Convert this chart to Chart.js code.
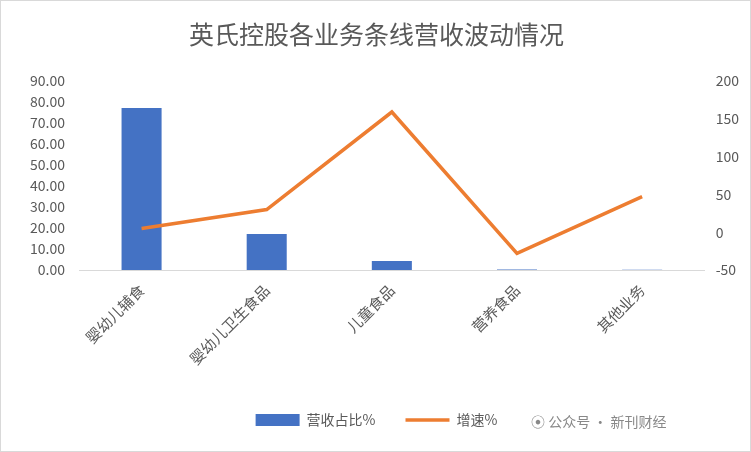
<!DOCTYPE html>
<html><head><meta charset="utf-8">
<script src="https://cdn.jsdelivr.net/npm/chart.js@4/dist/chart.umd.min.js"></script>
<style>html,body{margin:0;padding:0;background:#fff}#w{position:relative;width:751px;height:452px;border:1px solid #d9d9d9;box-sizing:border-box}
#wm{position:absolute;left:530px;top:410px;font:14px "Noto Sans CJK SC";color:#888}</style>
</head><body><div id="w"><canvas id="c" width="749" height="450"></canvas><div id="wm">⦿ 公众号 · 新刊财经</div></div>
<script>
const categories=["婴幼儿辅食","婴幼儿卫生食品","儿童食品","营养食品","其他业务"];
const revenueShare=[77.2,17.2,4.3,0.2,0.1];
const growth=[5,30,159,-28,47];
const F='"Noto Sans CJK SC", sans-serif';
new Chart(document.getElementById('c'),{
data:{labels:categories,datasets:[
{type:'line',label:'增速%',data:growth,yAxisID:'y1',borderColor:'#ED7D31',backgroundColor:'#ED7D31',borderWidth:3.5,pointRadius:0,pointStyle:'line',tension:0,order:0},
{type:'bar',label:'营收占比%',data:revenueShare,yAxisID:'y',backgroundColor:'#4472C4',pointStyle:'rect',barPercentage:0.32,categoryPercentage:1,order:1}
]},
options:{responsive:false,animation:false,
layout:{padding:{left:10,right:8,top:0,bottom:14}},
plugins:{title:{display:true,text:'英氏控股各业务条线营收波动情况',font:{family:F,size:25,weight:'normal'},color:'#595959',padding:{top:18,bottom:32}},
legend:{position:'bottom',reverse:true,labels:{font:{family:F,size:14},color:'#595959',usePointStyle:true,pointStyleWidth:44,boxHeight:12,padding:30},
},tooltip:{enabled:false}},
scales:{
x:{grid:{display:false},border:{color:'#d9d9d9'},afterFit:s=>{s.height+=12},ticks:{font:{family:F,size:15},color:'#595959',maxRotation:45,minRotation:45}},
y:{min:0,max:90,afterFit:s=>{s.width=68},ticks:{stepSize:10,autoSkip:false,padding:6,callback:v=>v.toFixed(2),font:{family:F,size:14,lineHeight:1},color:'#595959'},grid:{display:false},border:{display:false}},
y1:{position:'right',min:-50,max:200,ticks:{stepSize:50,autoSkip:false,font:{family:F,size:14},color:'#595959'},grid:{display:false},border:{display:false}}
}}});
</script></body></html>
